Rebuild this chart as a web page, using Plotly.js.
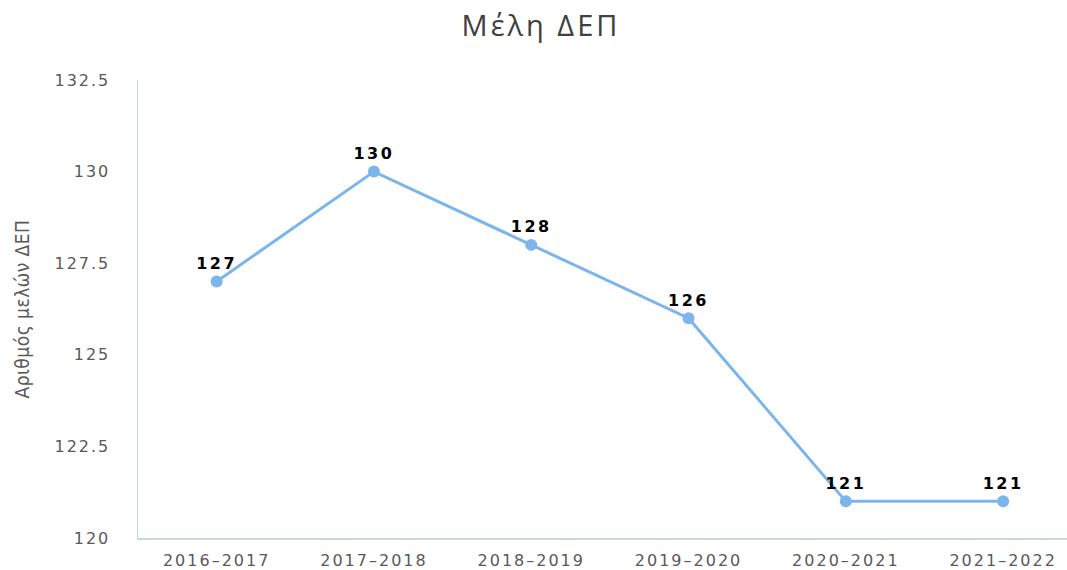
<!DOCTYPE html>
<html>
<head>
<meta charset="utf-8">
<script src="https://cdn.plot.ly/plotly-3.0.1.min.js"></script>
<style>
html,body{margin:0;padding:0;background:#fff;}
#chart{width:1067px;height:570px;}
#chart .xtick text, #chart .ytick text{letter-spacing:2px;}
#chart .textpoint text{letter-spacing:2.5px;}
#chart .gtitle{letter-spacing:3px;}
#chart .ytitle{letter-spacing:0.5px;}
</style>
</head>
<body>
<div id="chart"></div>
<script>
const years = ["2016–2017", "2017–2018", "2018–2019", "2019–2020", "2020–2021", "2021–2022"];
const members = [127, 130, 128, 126, 121, 121];
const yTicks = [120, 122.5, 125, 127.5, 130, 132.5];

const trace = {
  x: years,
  y: members,
  type: 'scatter',
  mode: 'lines+markers+text',
  text: members.map(String),
  textposition: 'top center',
  textfont: {family: 'DejaVu Sans', size: 16, color: '#000000', weight: 'bold'},
  line: {color: '#7cb5ec', width: 3},
  marker: {color: '#7cb5ec', size: 12},
  cliponaxis: false,
  hoverinfo: 'x+y'
};

const layout = {
  width: 1067, height: 570,
  margin: {l: 138, r: 0, t: 80, b: 32},
  paper_bgcolor: '#ffffff', plot_bgcolor: '#ffffff',
  showlegend: false,
  title: {text: 'Μέλη ΔΕΠ', x: 0.507, xanchor: 'center', y: 0.955, yanchor: 'middle',
          font: {family: 'Open Sans', size: 29, color: '#404040'}},
  xaxis: {
    type: 'category',
    range: [-0.5, 5.406],
    showgrid: false, zeroline: false,
    showline: true, linecolor: '#c9d6ea', linewidth: 2,
    ticks: 'outside', ticklen: 7, tickcolor: 'rgba(0,0,0,0)',
    tickfont: {family: 'DejaVu Sans', size: 16, color: '#595959'},
    fixedrange: true
  },
  yaxis: {
    range: [120, 132.5],
    tickvals: yTicks,
    ticktext: yTicks.map(String),
    showgrid: false, zeroline: false,
    showline: true, linecolor: '#c9d6ea', linewidth: 1.5,
    ticks: 'outside', ticklen: 23, tickcolor: 'rgba(0,0,0,0)',
    tickfont: {family: 'DejaVu Sans', size: 16, color: '#595959'},
    title: {text: 'Αριθμός μελών ΔΕΠ', standoff: 30,
            font: {family: 'DejaVu Sans Condensed', size: 19, color: '#595959'}},
    automargin: false,
    fixedrange: true
  }
};

Plotly.newPlot('chart', [trace], layout, {displayModeBar: false, staticPlot: true});
</script>
</body>
</html>
